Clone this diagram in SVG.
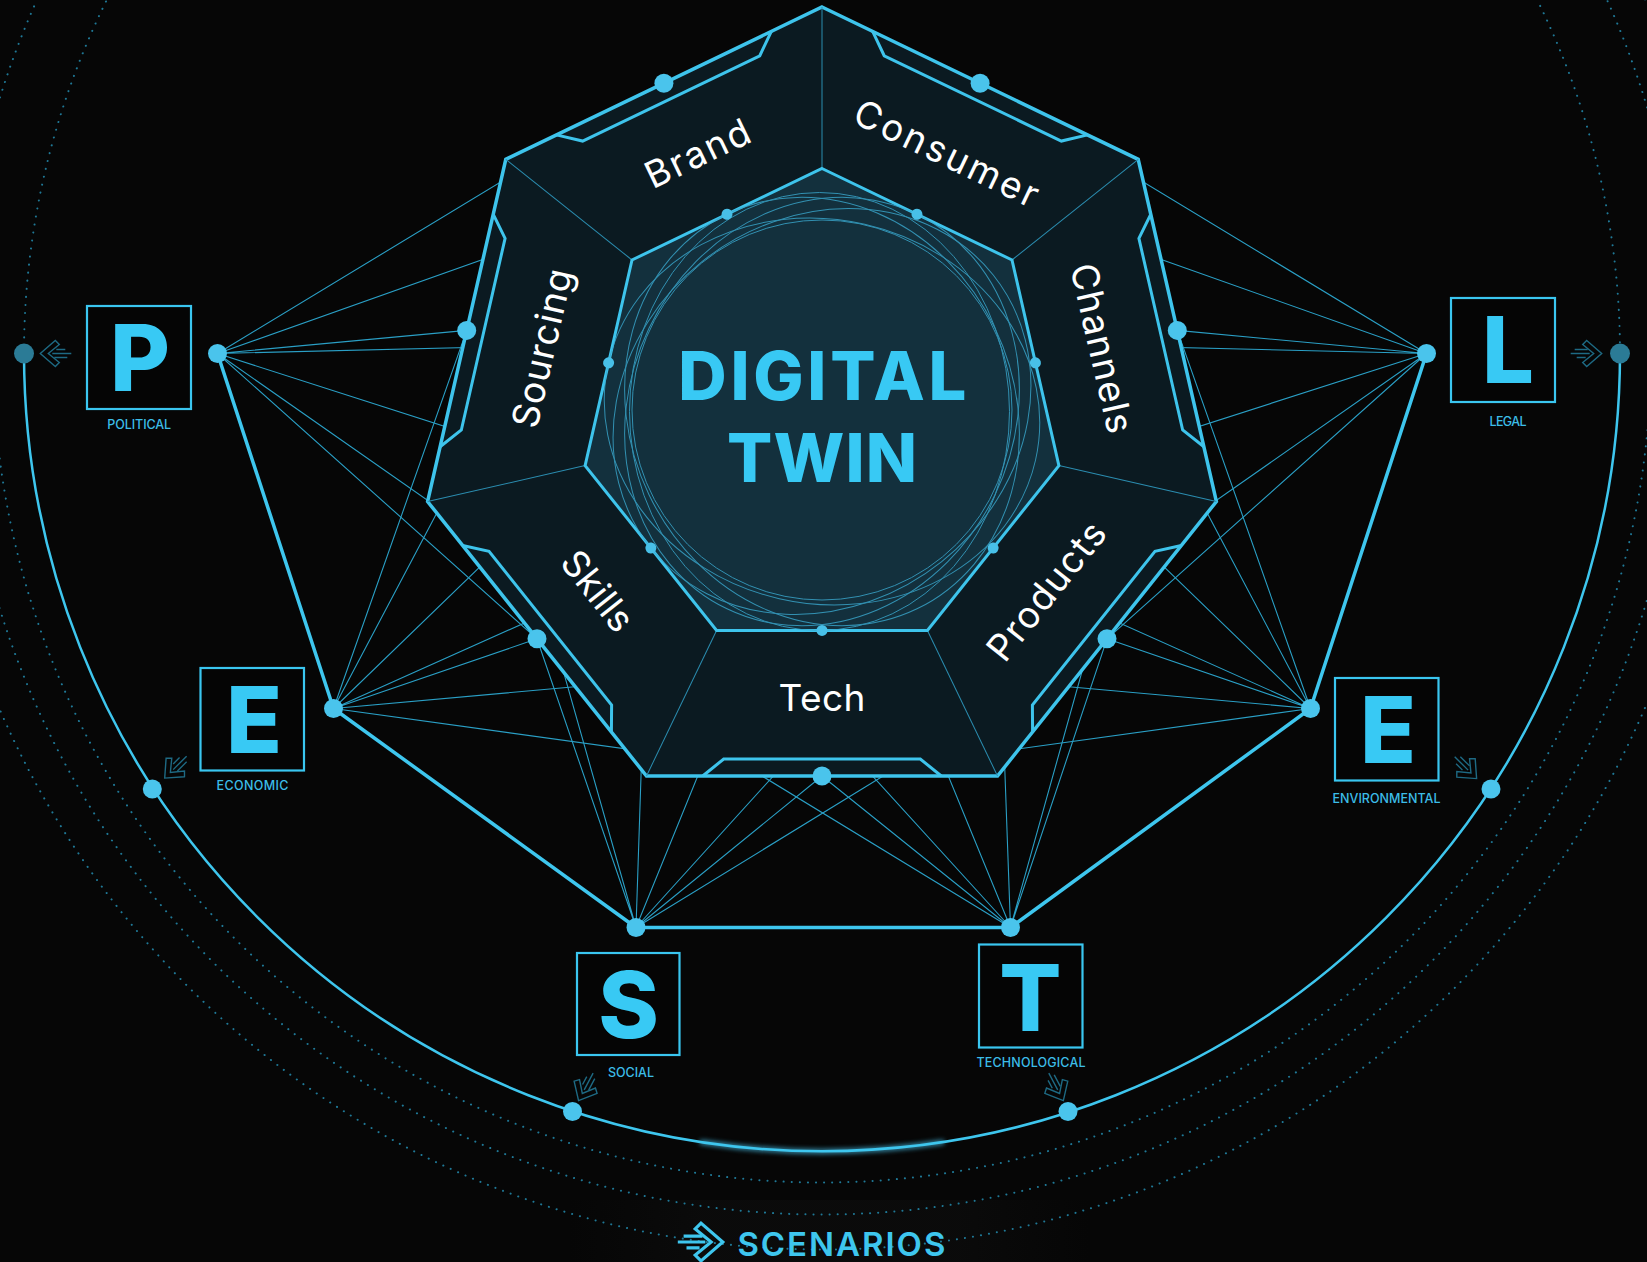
<svg xmlns="http://www.w3.org/2000/svg" width="1647" height="1262" viewBox="0 0 1647 1262">
<defs>
<style>
.thin{fill:none;stroke:#2a9fc5;stroke-width:1.1}
.thick{fill:none;stroke:#3ec6ee;stroke-width:3.5;stroke-linejoin:round}
.hub{fill:#4ac4ec}
.enddot{fill:#2b7b96}
.dotted{fill:none;stroke:#1f7896;stroke-width:2;stroke-dasharray:0.1 8;stroke-linecap:round}
.box{fill:#050505;stroke:#3ac6f0;stroke-width:2.2}
.big{font-family:Inter,"Liberation Sans",sans-serif;font-weight:800;font-size:92px;fill:#38c9f4;text-anchor:middle}
.cap{font-family:Inter,"Liberation Sans",sans-serif;font-weight:500;font-size:12.5px;fill:#3cbde8;text-anchor:middle}
.lbl{font-family:Inter,"Liberation Sans",sans-serif;font-weight:400;font-size:37px;fill:#ffffff;text-anchor:middle}
.edge{fill:none;stroke:#3ec4ec;stroke-width:3.5;stroke-linejoin:miter}
.div{stroke:#2b8db0;stroke-width:1}
.spiro{fill:none;stroke:#3aa9cf;stroke-width:1;opacity:0.8}
.icon{fill:none;stroke:#1e6a84;stroke-width:1.4;stroke-linejoin:miter}
</style>
<g id="arrowIcon">
<path d="M0 -13 L15 0 L0 13 L-4 9 L7 0 L-4 -9 Z"/>
<path d="M-12 -4 H1 M-16 0 H3 M-10 4 H-1"/>
</g>
<filter id="glow" x="-20%" y="-300%" width="140%" height="700%"><feGaussianBlur stdDeviation="2.5"/></filter>
<linearGradient id="band" x1="0" y1="0" x2="1" y2="0">
<stop offset="0" stop-color="#101010" stop-opacity="0"/>
<stop offset="0.25" stop-color="#101010" stop-opacity="1"/>
<stop offset="0.75" stop-color="#101010" stop-opacity="1"/>
<stop offset="1" stop-color="#101010" stop-opacity="0"/>
</linearGradient>
</defs>
<rect width="1647" height="1262" fill="#060606"/>
<rect x="570" y="1200" width="520" height="62" fill="url(#band)" opacity="0.45"/>

<g id="orbits">
<path class="dotted" d="M24 353.5 A798 798 0 0 1 1620 353.5"/>
<circle class="dotted" cx="822" cy="353.5" r="861"/>
<circle class="dotted" cx="822" cy="353.5" r="896"/>
<path class="dotted" d="M-7 353.5 A829 829 0 0 0 1651 353.5"/>
<path d="M700 1142.1 A798 798 0 0 0 944 1142.1" fill="none" stroke="#4fd2ff" stroke-width="4" filter="url(#glow)" opacity="0.8"/>
<path d="M24 353.5 A798 798 0 0 0 1620 353.5" fill="none" stroke="#3ec6ee" stroke-width="2.5"/>
<circle class="enddot" cx="24" cy="353.5" r="10"/>
<circle class="enddot" cx="1620" cy="353.5" r="10"/>
<circle class="hub" cx="152.3" cy="789" r="9.5"/>
<circle class="hub" cx="1491" cy="789" r="9.5"/>
<circle class="hub" cx="572.5" cy="1111.5" r="9.5"/>
<circle class="hub" cx="1068" cy="1111.5" r="9.5"/>
<g class="icon">
<use href="#arrowIcon" transform="translate(55.3 353.5) rotate(180)"/>
<use href="#arrowIcon" transform="translate(1586.7 353.5)"/>
<use href="#arrowIcon" transform="translate(175.3 767.5) rotate(135)"/>
<use href="#arrowIcon" transform="translate(1466 768) rotate(45)"/>
<use href="#arrowIcon" transform="translate(585.6 1087.3) rotate(118)"/>
<use href="#arrowIcon" transform="translate(1056.3 1087.3) rotate(62)"/>
</g>
</g>

<g id="connectors">
<path class="thin" d="M217.5 353.5L663.9 83.2M217.5 353.5L980.1 83.2M217.5 353.5L1177.3 330.4M217.5 353.5L1107 638.8M217.5 353.5L822 776M217.5 353.5L537 638.8M217.5 353.5L466.7 330.4"/>
<path class="thin" d="M333.5 708.5L663.9 83.2M333.5 708.5L980.1 83.2M333.5 708.5L1177.3 330.4M333.5 708.5L1107 638.8M333.5 708.5L822 776M333.5 708.5L537 638.8M333.5 708.5L466.7 330.4"/>
<path class="thin" d="M636 927.5L663.9 83.2M636 927.5L980.1 83.2M636 927.5L1177.3 330.4M636 927.5L1107 638.8M636 927.5L822 776M636 927.5L537 638.8M636 927.5L466.7 330.4"/>
<path class="thin" d="M1010.5 927.5L663.9 83.2M1010.5 927.5L980.1 83.2M1010.5 927.5L1177.3 330.4M1010.5 927.5L1107 638.8M1010.5 927.5L822 776M1010.5 927.5L537 638.8M1010.5 927.5L466.7 330.4"/>
<path class="thin" d="M1310.5 708.5L663.9 83.2M1310.5 708.5L980.1 83.2M1310.5 708.5L1177.3 330.4M1310.5 708.5L1107 638.8M1310.5 708.5L822 776M1310.5 708.5L537 638.8M1310.5 708.5L466.7 330.4"/>
<path class="thin" d="M1426.5 353.5L663.9 83.2M1426.5 353.5L980.1 83.2M1426.5 353.5L1177.3 330.4M1426.5 353.5L1107 638.8M1426.5 353.5L822 776M1426.5 353.5L537 638.8M1426.5 353.5L466.7 330.4"/>
<path class="thick" d="M217.5 353.5L333.5 708.5L636 927.5L1010.5 927.5L1310.5 708.5L1426.5 353.5"/>
</g>

<g id="digital-twin">
<polygon class="edge" points="822,7 1138.2,159.3 1216.4,501.5 997.5,776 646.5,776 427.6,501.5 505.8,159.3" style="fill:#0b1a21"/>
<g class="div">
<line x1="822" y1="168.5" x2="822" y2="7"/>
<line x1="822" y1="168.5" x2="822" y2="7" transform="rotate(51.4286 822 411.5)"/>
<line x1="822" y1="168.5" x2="822" y2="7" transform="rotate(102.857 822 411.5)"/>
<line x1="822" y1="168.5" x2="822" y2="7" transform="rotate(154.286 822 411.5)"/>
<line x1="822" y1="168.5" x2="822" y2="7" transform="rotate(205.714 822 411.5)"/>
<line x1="822" y1="168.5" x2="822" y2="7" transform="rotate(257.143 822 411.5)"/>
<line x1="822" y1="168.5" x2="822" y2="7" transform="rotate(308.571 822 411.5)"/>
</g>
<g class="edge" style="stroke-width:3">
<path d="M702.7 776L723.7 759L920.3 759L941.3 776"/>
<path d="M702.7 776L723.7 759L920.3 759L941.3 776" transform="rotate(51.4286 822 411.5)"/>
<path d="M702.7 776L723.7 759L920.3 759L941.3 776" transform="rotate(102.857 822 411.5)"/>
<path d="M702.7 776L723.7 759L920.3 759L941.3 776" transform="rotate(154.286 822 411.5)"/>
<path d="M702.7 776L723.7 759L920.3 759L941.3 776" transform="rotate(205.714 822 411.5)"/>
<path d="M702.7 776L723.7 759L920.3 759L941.3 776" transform="rotate(257.143 822 411.5)"/>
<path d="M702.7 776L723.7 759L920.3 759L941.3 776" transform="rotate(308.571 822 411.5)"/>
</g>
<polygon class="edge" style="fill:#13303d;stroke-width:3" points="822,168.5 1012,260 1058.9,465.6 927.4,630.4 716.6,630.4 585.1,465.6 632,260"/>
<g class="spiro">
<circle cx="822" cy="410" r="190"/>
<ellipse cx="822" cy="414" rx="219" ry="190" transform="rotate(90 822 411.5)"/>
<ellipse cx="822" cy="411.5" rx="219" ry="192" transform="rotate(141.43 822 411.5)"/>
<ellipse cx="822" cy="411.5" rx="219" ry="192" transform="rotate(192.86 822 411.5)"/>
<ellipse cx="822" cy="411.5" rx="219" ry="192" transform="rotate(244.29 822 411.5)"/>
<ellipse cx="822" cy="411.5" rx="219" ry="192" transform="rotate(295.71 822 411.5)"/>
</g>
<g fill="#48c0e8">
<circle cx="822" cy="630.4" r="5.5"/>
<circle cx="822" cy="630.4" r="5.5" transform="rotate(51.4286 822 411.5)"/>
<circle cx="822" cy="630.4" r="5.5" transform="rotate(102.857 822 411.5)"/>
<circle cx="822" cy="630.4" r="5.5" transform="rotate(154.286 822 411.5)"/>
<circle cx="822" cy="630.4" r="5.5" transform="rotate(205.714 822 411.5)"/>
<circle cx="822" cy="630.4" r="5.5" transform="rotate(257.143 822 411.5)"/>
<circle cx="822" cy="630.4" r="5.5" transform="rotate(308.571 822 411.5)"/>
</g>
<g class="hub">
<circle cx="663.9" cy="83.2" r="9.5"/>
<circle cx="980.1" cy="83.2" r="9.5"/>
<circle cx="1177.3" cy="330.4" r="9.5"/>
<circle cx="1107" cy="638.8" r="9.5"/>
<circle cx="822" cy="776" r="9.5"/>
<circle cx="537" cy="638.8" r="9.5"/>
<circle cx="466.7" cy="330.4" r="9.5"/>
</g>
<g class="lbl">
<text transform="translate(697.5 153.4) rotate(-25.714)" y="13" textLength="112">Brand</text>
<text transform="translate(946.5 153.4) rotate(25.714)" y="13" textLength="200">Consumer</text>
<text transform="translate(1101.8 348.1) rotate(77.143)" y="13" textLength="173">Channels</text>
<text transform="translate(1046.4 590.9) rotate(-51.429)" y="13" textLength="166">Products</text>
<text transform="translate(822 699)" y="12" textLength="87">Tech</text>
<text transform="translate(597.6 590.9) rotate(51.429)" y="13" textLength="92">Skills</text>
<text transform="translate(542.2 348.1) rotate(-77.143)" y="13" textLength="162">Sourcing</text>
</g>
<g font-family="Inter, 'Liberation Sans', sans-serif" font-weight="800" font-size="67" fill="#38c9f4" text-anchor="middle">
<text x="822.3" y="400" textLength="288">DIGITAL</text>
<text x="822" y="481.5" textLength="190">TWIN</text>
</g>
</g>

<g id="node-political">
<rect class="box" x="87" y="306" width="104" height="103"/>
<text class="big" x="140" y="390.8">P</text>
<text class="cap" x="139.2" y="429" textLength="64">POLITICAL</text>
<circle class="hub" cx="217.5" cy="353.5" r="9.5"/>
</g>
<g id="node-economic">
<rect class="box" x="200.5" y="668" width="103.5" height="102.5"/>
<text class="big" x="254" y="752.5">E</text>
<text class="cap" x="252.5" y="790" textLength="72">ECONOMIC</text>
<circle class="hub" cx="333.5" cy="708.5" r="9.5"/>
</g>
<g id="node-social">
<rect class="box" x="577" y="953" width="102.5" height="102"/>
<text class="big" x="628.5" y="1038">S</text>
<text class="cap" x="631" y="1076.5" textLength="46">SOCIAL</text>
<circle class="hub" cx="636" cy="927.5" r="9.5"/>
</g>
<g id="node-technological">
<rect class="box" x="979" y="944.5" width="103.5" height="103"/>
<text class="big" x="1030.5" y="1030.5">T</text>
<text class="cap" x="1031" y="1067.3" textLength="109">TECHNOLOGICAL</text>
<circle class="hub" cx="1010.5" cy="927.5" r="9.5"/>
</g>
<g id="node-environmental">
<rect class="box" x="1335" y="678" width="103.5" height="102.5"/>
<text class="big" x="1388" y="762.5">E</text>
<text class="cap" x="1386.5" y="802.7" textLength="108">ENVIRONMENTAL</text>
<circle class="hub" cx="1310.5" cy="708.5" r="9.5"/>
</g>
<g id="node-legal">
<rect class="box" x="1451" y="298" width="104" height="104"/>
<text class="big" x="1508" y="383.3">L</text>
<text class="cap" x="1508" y="425.7" textLength="37">LEGAL</text>
<circle class="hub" cx="1426.5" cy="353.5" r="9.5"/>
</g>

<g id="scenarios">
<g fill="none" stroke="#3ec6ee" stroke-width="2.2">
<use href="#arrowIcon" transform="translate(701 1242) scale(1.45)"/>
</g>
<text x="841.4" y="1256" font-family="Inter, 'Liberation Sans', sans-serif" font-weight="600" font-size="33" fill="#3ec6ee" text-anchor="middle" textLength="208">SCENARIOS</text>
</g>
</svg>
